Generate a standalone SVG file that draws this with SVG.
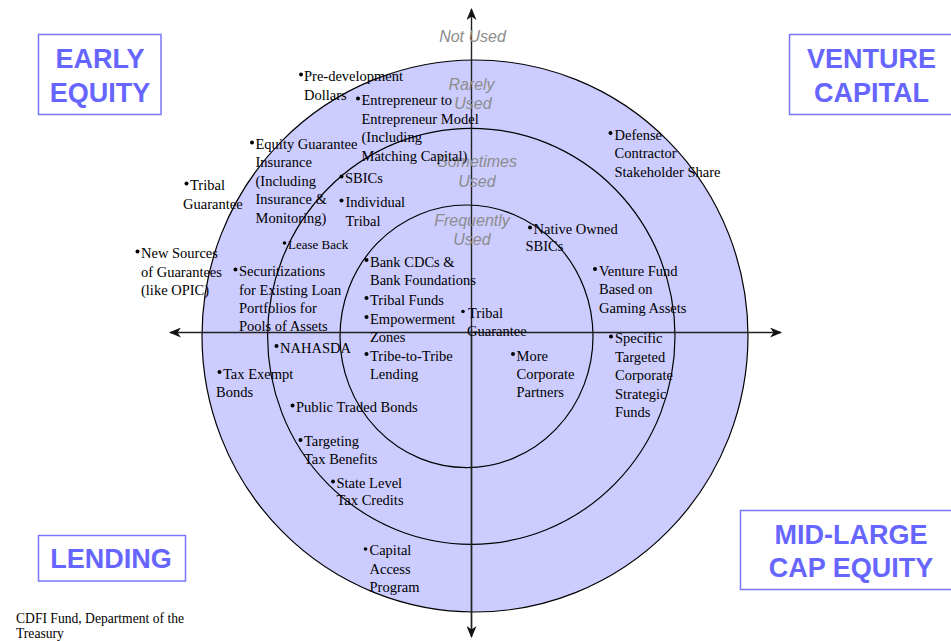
<svg xmlns="http://www.w3.org/2000/svg" width="951" height="641" viewBox="0 0 951 641">
  <style>
    .ring { fill: none; stroke: #000; stroke-width: 1.2; }
    .axis { fill: none; stroke: #222; stroke-width: 1.4; }
    .box { fill: #fff; stroke: #7777ff; stroke-width: 1.5; }
    .box-label { font-family: "Liberation Sans", Arial, sans-serif; font-weight: bold; font-size: 27px; fill: #6666ff; text-anchor: middle; }
    .usage { font-family: "Liberation Sans", Arial, sans-serif; font-style: italic; font-size: 16px; fill: #8c8c8c; text-anchor: middle; }
    .item { font-family: "Liberation Serif", "Times New Roman", serif; font-size: 14.5px; fill: #000; }
    .small { font-size: 13px; }
    .dot { fill: #000; }
    .credit { font-family: "Liberation Serif", "Times New Roman", serif; font-size: 13.6px; fill: #000; }
  </style>
  <defs>
    <marker id="head" viewBox="0 0 12 10" refX="11" refY="5" markerWidth="12" markerHeight="10" markerUnits="userSpaceOnUse" orient="auto">
      <path d="M0,0 L12,5 L0,10 L3.5,5 Z" fill="#111"/>
    </marker>
  </defs>

  <rect width="951" height="641" fill="#fff"/>

  <!-- usage rings -->
  <g id="rings">
    <ellipse cx="475" cy="336" rx="273" ry="276" fill="#ccccff" stroke="#000" stroke-width="1.2"/>
    <ellipse class="ring" cx="471.3" cy="336.3" rx="203.7" ry="208"/>
    <ellipse class="ring" cx="466.5" cy="336.3" rx="126.5" ry="131.3"/>
  </g>

  <!-- axes -->
  <g id="connectors">
    <line class="axis" x1="471.5" y1="630" x2="471.5" y2="9" marker-end="url(#head)"/>
    <line class="axis" x1="471.5" y1="330" x2="471.5" y2="637" marker-end="url(#head)"/>
    <line class="axis" x1="470" y1="332.5" x2="170" y2="332.5" marker-end="url(#head)" stroke="#444" stroke-width="1.6"/>
    <line class="axis" x1="470" y1="332.5" x2="781" y2="332.5" marker-end="url(#head)" stroke="#444" stroke-width="1.6"/>
  </g>

  <!-- usage labels -->
  <g id="usage-labels">
    <text class="usage" x="472.5" y="41.7">Not Used</text>
    <text class="usage" x="471.5" y="90">Rarely</text>
    <text class="usage" x="473" y="109.3">Used</text>
    <text class="usage" x="477" y="166.7">Sometimes</text>
    <text class="usage" x="477" y="186.7">Used</text>
    <text class="usage" x="472" y="225.7">Frequently</text>
    <text class="usage" x="472" y="245">Used</text>
  </g>

  <!-- quadrant boxes -->
  <g id="early-equity">
    <rect class="box" x="38.5" y="34.5" width="122.5" height="80"/>
    <text class="box-label" x="100" y="68">EARLY</text>
    <text class="box-label" x="100" y="101.5">EQUITY</text>
  </g>
  <g id="venture-capital">
    <rect class="box" x="789.5" y="34.5" width="170" height="80"/>
    <text class="box-label" x="871.5" y="68">VENTURE</text>
    <text class="box-label" x="871.5" y="101.5">CAPITAL</text>
  </g>
  <g id="lending">
    <rect class="box" x="38.5" y="535.5" width="147" height="45.5"/>
    <text class="box-label" x="111" y="568">LENDING</text>
  </g>
  <g id="mid-large-cap-equity">
    <rect class="box" x="740.5" y="510.5" width="220" height="79"/>
    <text class="box-label" x="851" y="544">MID-LARGE</text>
    <text class="box-label" x="851" y="576.5">CAP EQUITY</text>
  </g>

  <!-- financing instruments -->
  <g id="pre-development">
    <circle class="dot" cx="301" cy="74.5" r="2"/>
    <text class="item"><tspan x="304" y="81">Pre-development</tspan><tspan x="304" y="99.5">Dollars</tspan></text>
  </g>
  <g id="entrepreneur-model">
    <circle class="dot" cx="358" cy="98.5" r="2"/>
    <text class="item"><tspan x="361.5" y="105">Entrepreneur to</tspan><tspan x="361.5" y="123.5">Entrepreneur Model</tspan><tspan x="361.5" y="142">(Including</tspan><tspan x="361.5" y="160.5">Matching Capital)</tspan></text>
  </g>
  <g id="equity-guarantee">
    <circle class="dot" cx="252" cy="142.5" r="2"/>
    <text class="item"><tspan x="255.5" y="149">Equity Guarantee</tspan><tspan x="255.5" y="167">Insurance</tspan><tspan x="255.5" y="185.5">(Including</tspan><tspan x="255.5" y="204">Insurance &amp;</tspan><tspan x="255.5" y="222.5">Monitoring)</tspan></text>
  </g>
  <g id="tribal-guarantee-outer">
    <circle class="dot" cx="186.5" cy="183.5" r="2"/>
    <text class="item"><tspan x="190" y="190">Tribal</tspan><tspan x="183" y="208.5">Guarantee</tspan></text>
  </g>
  <g id="sbics">
    <circle class="dot" cx="341.5" cy="176.5" r="2"/>
    <text class="item" x="345" y="183">SBICs</text>
  </g>
  <g id="individual-tribal">
    <circle class="dot" cx="341.5" cy="200.5" r="2"/>
    <text class="item"><tspan x="345.5" y="207">Individual</tspan><tspan x="345.5" y="225.5">Tribal</tspan></text>
  </g>
  <g id="lease-back">
    <circle class="dot" cx="284.5" cy="243" r="1.8"/>
    <text class="item small" x="288" y="249">Lease Back</text>
  </g>
  <g id="new-sources">
    <circle class="dot" cx="137.5" cy="251.5" r="2"/>
    <text class="item"><tspan x="141" y="258">New Sources</tspan><tspan x="141" y="276.5">of Guarantees</tspan><tspan x="141" y="295">(like OPIC)</tspan></text>
  </g>
  <g id="securitizations">
    <circle class="dot" cx="235.5" cy="269.5" r="2"/>
    <text class="item"><tspan x="239" y="276">Securitizations</tspan><tspan x="239" y="294.5">for Existing Loan</tspan><tspan x="239" y="313">Portfolios for</tspan><tspan x="239" y="331">Pools of Assets</tspan></text>
  </g>
  <g id="nahasda">
    <circle class="dot" cx="276.5" cy="346" r="2"/>
    <text class="item" x="280" y="352.5">NAHASDA</text>
  </g>
  <g id="tax-exempt-bonds">
    <circle class="dot" cx="219.5" cy="372" r="2"/>
    <text class="item"><tspan x="223" y="378.5">Tax Exempt</tspan><tspan x="216" y="396.5">Bonds</tspan></text>
  </g>
  <g id="public-traded-bonds">
    <circle class="dot" cx="292.5" cy="405.5" r="2"/>
    <text class="item" x="296" y="412">Public Traded Bonds</text>
  </g>
  <g id="bank-cdcs">
    <circle class="dot" cx="366.5" cy="260" r="2"/>
    <text class="item"><tspan x="370" y="266.5">Bank CDCs &amp;</tspan><tspan x="370" y="285">Bank Foundations</tspan></text>
  </g>
  <g id="tribal-funds">
    <circle class="dot" cx="366.5" cy="298" r="2"/>
    <text class="item" x="370" y="304.5">Tribal Funds</text>
  </g>
  <g id="empowerment-zones">
    <circle class="dot" cx="366.5" cy="317" r="2"/>
    <text class="item"><tspan x="370" y="323.5">Empowerment</tspan><tspan x="370" y="342">Zones</tspan></text>
  </g>
  <g id="tribe-to-tribe">
    <circle class="dot" cx="366.5" cy="354" r="2"/>
    <text class="item"><tspan x="370" y="360.5">Tribe-to-Tribe</tspan><tspan x="370" y="379">Lending</tspan></text>
  </g>
  <g id="tribal-guarantee-center">
    <circle class="dot" cx="463" cy="311.5" r="1.8"/>
    <text class="item"><tspan x="468" y="317.5">Tribal</tspan><tspan x="467" y="336">Guarantee</tspan></text>
  </g>
  <g id="native-owned-sbics">
    <circle class="dot" cx="530" cy="227.5" r="2"/>
    <text class="item"><tspan x="533.5" y="233.5">Native Owned</tspan><tspan x="525.5" y="251">SBICs</tspan></text>
  </g>
  <g id="corporate-partners">
    <circle class="dot" cx="513" cy="354" r="2"/>
    <text class="item"><tspan x="516.5" y="360.5">More</tspan><tspan x="516.5" y="378.5">Corporate</tspan><tspan x="516.5" y="397">Partners</tspan></text>
  </g>
  <g id="venture-fund">
    <circle class="dot" cx="595" cy="269" r="2"/>
    <text class="item"><tspan x="599" y="275.5">Venture Fund</tspan><tspan x="599" y="293.5">Based on</tspan><tspan x="599" y="312.5">Gaming Assets</tspan></text>
  </g>
  <g id="strategic-funds">
    <circle class="dot" cx="611" cy="336.5" r="2"/>
    <text class="item"><tspan x="615" y="343">Specific</tspan><tspan x="615" y="361.5">Targeted</tspan><tspan x="615" y="380">Corporate</tspan><tspan x="615" y="399">Strategic</tspan><tspan x="615" y="417">Funds</tspan></text>
  </g>
  <g id="defense-contractor">
    <circle class="dot" cx="610.5" cy="133" r="2"/>
    <text class="item"><tspan x="614.5" y="139.5">Defense</tspan><tspan x="614.5" y="158">Contractor</tspan><tspan x="614.5" y="177">Stakeholder Share</tspan></text>
  </g>
  <g id="targeting-tax-benefits">
    <circle class="dot" cx="300.5" cy="440" r="2"/>
    <text class="item"><tspan x="304" y="446">Targeting</tspan><tspan x="304" y="463.5">Tax Benefits</tspan></text>
  </g>
  <g id="state-tax-credits">
    <circle class="dot" cx="333" cy="481.5" r="2"/>
    <text class="item"><tspan x="336.5" y="488">State Level</tspan><tspan x="336.5" y="505">Tax Credits</tspan></text>
  </g>
  <g id="capital-access">
    <circle class="dot" cx="365.5" cy="549" r="1.8"/>
    <text class="item"><tspan x="369.5" y="555">Capital</tspan><tspan x="369.5" y="573.5">Access</tspan><tspan x="369.5" y="592">Program</tspan></text>
  </g>

  <!-- source -->
  <g id="source">
    <text class="credit"><tspan x="16" y="622.5">CDFI Fund, Department of the</tspan><tspan x="16" y="638">Treasury</tspan></text>
  </g>
</svg>
